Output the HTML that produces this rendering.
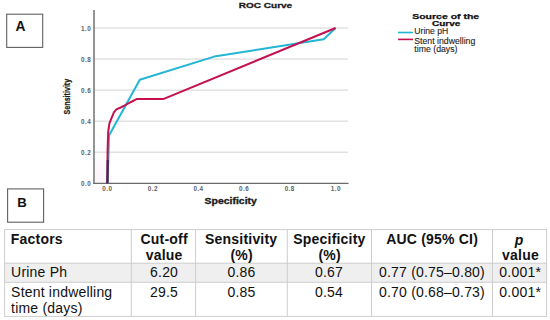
<!DOCTYPE html>
<html><head><meta charset="utf-8">
<style>
html,body{margin:0;padding:0;background:#fff;}
body{width:550px;height:320px;overflow:hidden;position:relative;font-family:"Liberation Sans",sans-serif;}
svg{position:absolute;left:0;top:0;}
text{font-family:"Liberation Sans",sans-serif;}
</style></head>
<body>
<svg width="550" height="320" viewBox="0 0 550 320">
  <!-- Panel A label box -->
  <rect x="6.7" y="14.2" width="36" height="33.2" fill="none" stroke="#606060" stroke-width="1.1"/>
  <text x="15.6" y="31.4" font-size="13.8" font-weight="bold" fill="#111">A</text>

  <!-- Title -->
  <text x="238.8" y="7.95" font-size="8.1" font-weight="bold" fill="#1a1a1a" stroke="#1a1a1a" stroke-width="0.3" textLength="53.4" lengthAdjust="spacingAndGlyphs">ROC Curve</text>

  <defs><linearGradient id="pk" x1="0" y1="0" x2="0" y2="1"><stop offset="0" stop-color="#fbf1f7" stop-opacity="0"/><stop offset="1" stop-color="#fbf3f8"/></linearGradient></defs>
  <rect x="94.8" y="145" width="16" height="37.6" fill="url(#pk)"/>
  <!-- gridlines -->
  <g stroke="#d4d4d4" stroke-width="1">
    <line x1="94" y1="28" x2="348" y2="28"/>
    <line x1="94" y1="59.05" x2="348" y2="59.05"/>
    <line x1="94" y1="90.1" x2="348" y2="90.1"/>
    <line x1="94" y1="121.15" x2="348" y2="121.15"/>
    <line x1="94" y1="152.2" x2="348" y2="152.2"/>
  </g>
  <!-- axes -->
  <line x1="94" y1="10" x2="94" y2="184" stroke="#707070" stroke-width="1.5"/>
  <line x1="93.3" y1="183.4" x2="348.5" y2="183.4" stroke="#6a6a6a" stroke-width="1.3"/>

  <!-- y tick labels -->
  <g font-size="6.3" fill="#606060" text-anchor="end" font-weight="bold" letter-spacing="0.5">
    <text x="91.2" y="30.6">1.0</text>
    <text x="91.2" y="61.6">0.8</text>
    <text x="91.2" y="92.7">0.6</text>
    <text x="91.2" y="123.7">0.4</text>
    <text x="91.2" y="154.8">0.2</text>
    <text x="91.2" y="185.8">0.0</text>
  </g>
  <!-- x tick labels -->
  <g font-size="6.3" fill="#606060" text-anchor="middle" font-weight="bold" letter-spacing="0.45">
    <text x="107.3" y="190.6">0.0</text>
    <text x="152.9" y="190.6">0.2</text>
    <text x="198.5" y="190.6">0.4</text>
    <text x="244.1" y="190.6">0.6</text>
    <text x="289.7" y="190.6">0.8</text>
    <text x="335.9" y="190.6">1.0</text>
  </g>

  <!-- axis titles -->
  <text x="204.5" y="204" font-size="8.3" font-weight="bold" fill="#1a1a1a" stroke="#1a1a1a" stroke-width="0.3" textLength="52.4" lengthAdjust="spacingAndGlyphs">Specificity</text>
  <text transform="translate(70.3,114.4) rotate(-90)" x="0" y="0" font-size="9.6" font-weight="bold" fill="#1a1a1a" stroke="#1a1a1a" stroke-width="0.25" textLength="35.6" lengthAdjust="spacingAndGlyphs">Sensitivity</text>

  <!-- curves -->
  <polyline fill="none" stroke="#22b5d4" stroke-width="2" stroke-linejoin="round"
    points="107.5,183.25 108.3,160 109,135.4 139.8,79.7 214.2,56.6 323.7,39.2 335.6,28"/>
  <polyline fill="none" stroke="#c4114f" stroke-width="2" stroke-linejoin="round"
    points="107.3,183.25 107.6,150 108.2,132 109.4,123.4 114,112.2 116.4,109.4 120.6,107.5 125.3,105.2 130,102.5 137,98.9 163.8,98.9 335.6,28"/>
  <line x1="107.4" y1="183.25" x2="107.8" y2="160" stroke="#3d2b52" stroke-width="2.2"/>

  <!-- legend -->
  <text x="412.2" y="19.2" font-size="7.2" font-weight="bold" fill="#111" stroke="#111" stroke-width="0.25" textLength="67" lengthAdjust="spacingAndGlyphs">Source of the</text>
  <text x="432" y="25.7" font-size="7.2" font-weight="bold" fill="#111" stroke="#111" stroke-width="0.25" textLength="28.3" lengthAdjust="spacingAndGlyphs">Curve</text>
  <line x1="398" y1="32.5" x2="413" y2="32.5" stroke="#22b5d4" stroke-width="1.6"/>
  <line x1="398" y1="39.4" x2="413" y2="39.4" stroke="#c4114f" stroke-width="1.6"/>
  <g font-size="8.5" fill="#1e1e1e" stroke="#1e1e1e" stroke-width="0.12">
    <text x="414.3" y="34.0" textLength="34" lengthAdjust="spacingAndGlyphs">Urine pH</text>
    <text x="414.3" y="43.7" textLength="61" lengthAdjust="spacingAndGlyphs">Stent indwelling</text>
    <text x="414.3" y="51.8" textLength="43.2" lengthAdjust="spacingAndGlyphs">time (days)</text>
  </g>

  <!-- Panel B label box -->
  <rect x="7.6" y="188.9" width="36" height="33.3" fill="none" stroke="#606060" stroke-width="1.1"/>
  <text x="17.2" y="207.2" font-size="13.2" font-weight="bold" fill="#111">B</text>

  <!-- table -->
  <rect x="4.6" y="263.2" width="542.4" height="19.1" fill="#efefef"/>
  <g stroke="#cdcdcd" stroke-width="1" fill="none">
    <rect x="4.6" y="229.6" width="542" height="86.8"/>
    <line x1="4.6" y1="263.2" x2="547" y2="263.2"/>
    <line x1="4.6" y1="282.3" x2="547" y2="282.3"/>
    <line x1="131.3" y1="229.6" x2="131.3" y2="316.4"/>
    <line x1="195.6" y1="229.6" x2="195.6" y2="316.4"/>
    <line x1="287.3" y1="229.6" x2="287.3" y2="316.4"/>
    <line x1="371.5" y1="229.6" x2="371.5" y2="316.4"/>
    <line x1="492.5" y1="229.6" x2="492.5" y2="316.4"/>
  </g>
  <g font-size="14" font-weight="bold" fill="#111" letter-spacing="0.2">
    <text x="10.8" y="244.2">Factors</text>
    <text x="164.2" y="244.2" text-anchor="middle">Cut-off</text>
    <text x="164.2" y="260.4" text-anchor="middle">value</text>
    <text x="241.2" y="244.2" text-anchor="middle">Sensitivity</text>
    <text x="241.6" y="260.4" text-anchor="middle">(%)</text>
    <text x="329.4" y="244.2" text-anchor="middle">Specificity</text>
    <text x="329.6" y="260.4" text-anchor="middle">(%)</text>
    <text x="432.1" y="244.2" text-anchor="middle">AUC (95% CI)</text>
    <text x="519.2" y="244.7" text-anchor="middle" font-style="italic">p</text>
    <text x="520.5" y="260.4" text-anchor="middle">value</text>
  </g>
  <g font-size="14" fill="#111" letter-spacing="0.2">
    <text x="11.1" y="277.3">Urine Ph</text>
    <text x="164.1" y="277.3" text-anchor="middle">6.20</text>
    <text x="241.5" y="277.3" text-anchor="middle">0.86</text>
    <text x="329" y="277.3" text-anchor="middle">0.67</text>
    <text x="432" y="277.3" text-anchor="middle">0.77 (0.75–0.80)</text>
    <text x="520.2" y="277.3" text-anchor="middle">0.001*</text>
    <text x="11.1" y="296.7">Stent indwelling</text>
    <text x="11.1" y="312.9">time (days)</text>
    <text x="164.1" y="296.7" text-anchor="middle">29.5</text>
    <text x="241.5" y="296.7" text-anchor="middle">0.85</text>
    <text x="329" y="296.7" text-anchor="middle">0.54</text>
    <text x="432" y="296.7" text-anchor="middle">0.70 (0.68–0.73)</text>
    <text x="520.2" y="296.7" text-anchor="middle">0.001*</text>
  </g>
</svg>
</body></html>
